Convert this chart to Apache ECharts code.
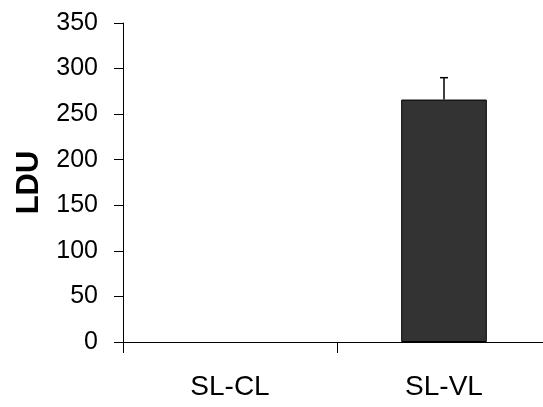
<!DOCTYPE html>
<html>
<head>
<meta charset="utf-8">
<script src="https://cdn.jsdelivr.net/npm/echarts@6/dist/echarts.min.js"></script>
<style>
html,body{margin:0;padding:0;background:#fff;overflow:hidden;width:543px;height:407px;}
#c{width:551px;height:407px;}
</style>
</head>
<body>
<div id="c"></div>
<script>
const categories = ["SL-CL", "SL-VL"];
const values = [0, 266];
const errors = [0, 24];
const yTicks = [0, 50, 100, 150, 200, 250, 300, 350];

const chart = echarts.init(document.getElementById('c'), null, {renderer: 'canvas'});
const errData = categories.map((c, i) => [i, values[i], values[i] + errors[i]]);
const barData = values.map(v => ({value: v, itemStyle: {borderWidth: v === 0 ? 0 : 1}}));

chart.setOption({
  animation: false,
  backgroundColor: '#fff',
  grid: {left: 123, top: 23, bottom: 65, right: 0, containLabel: false},
  xAxis: {
    type: 'category',
    data: categories,
    axisLine: {show: true, lineStyle: {color: '#000', width: 1}},
    axisTick: {show: true, length: 11, lineStyle: {color: '#000'}},
    axisLabel: {fontFamily: 'Liberation Sans, Arial', fontSize: 28, color: '#000', margin: 31}
  },
  yAxis: {
    type: 'value',
    min: yTicks[0],
    max: yTicks[yTicks.length - 1],
    interval: 50,
    name: 'LDU',
    nameLocation: 'middle',
    nameRotate: 90,
    nameGap: 78,
    nameTextStyle: {fontFamily: 'Liberation Sans, Arial', fontWeight: 'bold', fontSize: 31, color: '#000'},
    axisLine: {show: true, lineStyle: {color: '#000', width: 1}},
    axisTick: {show: true, length: 9, lineStyle: {color: '#000'}},
    splitLine: {show: false},
    axisLabel: {fontFamily: 'Liberation Sans, Arial', fontSize: 25, color: '#000', margin: 25}
  },
  series: [
    {
      type: 'bar',
      data: barData,
      barWidth: '40%',
      itemStyle: {color: '#333333', borderColor: '#000', borderWidth: 1}
    },
    {
      type: 'custom',
      data: errData,
      z: 5,
      renderItem: function (params, api) {
        const x = api.value(0);
        if (api.value(2) === api.value(1)) return null;
        const p1 = api.coord([x, api.value(1)]);
        const p2 = api.coord([x, api.value(2)]);
        const hw = 4;
        return {
          type: 'group',
          children: [
            {type: 'line', shape: {x1: p1[0], y1: p1[1], x2: p2[0], y2: p2[1]}, style: {stroke: '#000', lineWidth: 1.5}},
            {type: 'line', shape: {x1: p2[0] - hw, y1: p2[1], x2: p2[0] + hw, y2: p2[1]}, style: {stroke: '#000', lineWidth: 1.5}}
          ]
        };
      }
    }
  ]
});
</script>
</body>
</html>
